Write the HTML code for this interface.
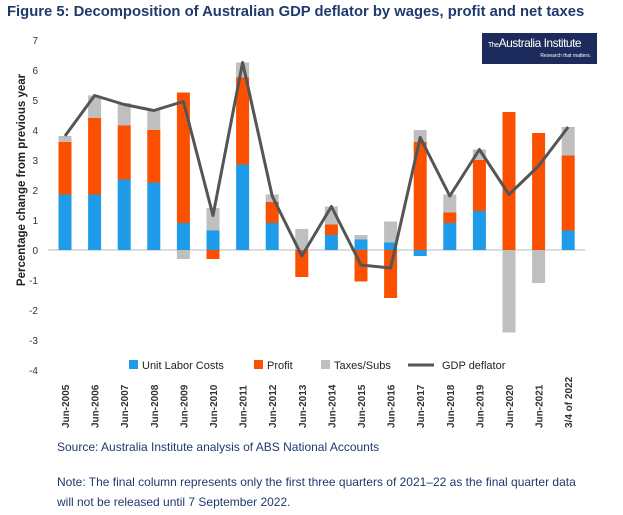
<!DOCTYPE html>
<html><head><meta charset="utf-8"><style>
body{margin:0;background:#fff;font-family:"Liberation Sans",sans-serif;}
#wrap{position:relative;width:623px;height:515px;overflow:hidden;}
.t{position:absolute;white-space:nowrap;}
</style></head><body>
<div id="wrap">
<div class="t" style="left:7px;top:4px;font-size:14.8px;font-weight:bold;color:#1f3a6e;">Figure 5: Decomposition of Australian GDP deflator by wages, profit and net taxes</div>
<div style="position:absolute;left:482px;top:33px;width:115px;height:31px;background:#1c2a5c;color:#fff;">
<div class="t" style="left:6px;top:3px;font-size:12px;letter-spacing:-0.5px;"><span style="font-size:7px">The</span>Australia Institute</div>
<div class="t" style="right:6px;top:20px;font-size:5px;">Research that matters.</div></div>
<svg id="svg" width="623" height="515" style="position:absolute;left:0;top:0"></svg>
<div class="t" style="left:57px;top:440px;font-size:12px;color:#1f3a6e;">Source: Australia Institute analysis of ABS National Accounts</div>
<div class="t" style="left:57px;top:472px;font-size:12px;color:#1f3a6e;line-height:20px;white-space:normal;width:525px;">Note: The final column represents only the first three quarters of 2021–22 as the final quarter data will not be released until 7 September 2022.</div>
</div>
<script>
const categories=["Jun-2005","Jun-2006","Jun-2007","Jun-2008","Jun-2009","Jun-2010","Jun-2011","Jun-2012","Jun-2013","Jun-2014","Jun-2015","Jun-2016","Jun-2017","Jun-2018","Jun-2019","Jun-2020","Jun-2021","3/4 of 2022"];
const ulc=[1.85,1.85,2.35,2.25,0.9,0.65,2.85,0.9,0,0.5,0.35,0.25,-0.2,0.9,1.3,0,0,0.65];
const profit=[1.75,2.55,1.8,1.75,4.35,-0.3,2.9,0.7,-0.9,0.35,-1.05,-1.6,3.6,0.35,1.7,4.6,3.9,2.5];
const taxes=[0.2,0.75,0.75,0.7,-0.3,0.75,0.5,0.25,0.7,0.6,0.15,0.7,0.4,0.6,0.35,-2.75,-1.1,0.95];
const gdp=[3.8,5.15,4.85,4.65,4.95,1.15,6.25,1.8,-0.2,1.45,-0.5,-0.6,3.75,1.8,3.35,1.85,2.8,4.1];
const yTicks=[7,6,5,4,3,2,1,0,-1,-2,-3,-4];
const NS="http://www.w3.org/2000/svg";const svg=document.getElementById('svg');
const y=v=>250-v*30;const x=i=>65+i*29.6;const bw=13;
function mk(t,a){const e=document.createElementNS(NS,t);for(const k in a)e.setAttribute(k,a[k]);svg.appendChild(e);return e;}
yTicks.forEach(v=>{const e=mk('text',{x:38,y:y(v)+4,'text-anchor':'end','font-size':10,fill:'#333'});e.textContent=v;

});
const yt=mk('text',{transform:'translate(25,180) rotate(-90)','text-anchor':'middle','font-size':11.5,'font-weight':'bold',fill:'#222'});yt.textContent='Percentage change from previous year';


const ax=mk('line',{x1:48,x2:585,y1:y(0),y2:y(0),stroke:'#bbb','stroke-width':1});


const cols=['#1e9be9','#fa5000','#bfbfbf'];const series=[ulc,profit,taxes];const nm=['ulc','profit','taxes'];
categories.forEach((c,i)=>{let pos=0,neg=0;
series.forEach((s,k)=>{const v=s[i];if(!v)return;let a,b;if(v>0){a=pos;b=pos+v;pos=b;}else{a=neg;b=neg+v;neg=b;}
const r=mk('rect',{x:x(i)-bw/2,y:Math.min(y(a),y(b)),width:bw,height:Math.abs(y(b)-y(a)),fill:cols[k]});

});
const t=mk('text',{transform:`translate(${x(i)+4},428) rotate(-90)`,'font-size':10,'font-weight':'bold',fill:'#333'});t.textContent=c;

});
const ln=mk('polyline',{points:gdp.map((v,i)=>x(i)+','+y(v)).join(' '),fill:'none',stroke:'#555','stroke-width':3,'stroke-linejoin':'round'});


const leg=[['Unit Labor Costs',cols[0],140],['Profit',cols[1],265],['Taxes/Subs',cols[2],332],['GDP deflator','line',440]];
leg.forEach(([n,c,lx])=>{const g=mk('g',{});

if(c==='line'){const l=document.createElementNS(NS,'line');l.setAttribute('x1',lx-32);l.setAttribute('x2',lx-6);l.setAttribute('y1',365);l.setAttribute('y2',365);l.setAttribute('stroke','#555');l.setAttribute('stroke-width',3);g.appendChild(l);}
else{const r=document.createElementNS(NS,'rect');r.setAttribute('x',lx-11);r.setAttribute('y',360);r.setAttribute('width',9);r.setAttribute('height',9);r.setAttribute('fill',c);g.appendChild(r);}
const t=document.createElementNS(NS,'text');t.setAttribute('x',lx+2);t.setAttribute('y',369);t.setAttribute('font-size',11);t.setAttribute('fill','#222');t.textContent=n;g.appendChild(t);});
</script>
</body></html>
